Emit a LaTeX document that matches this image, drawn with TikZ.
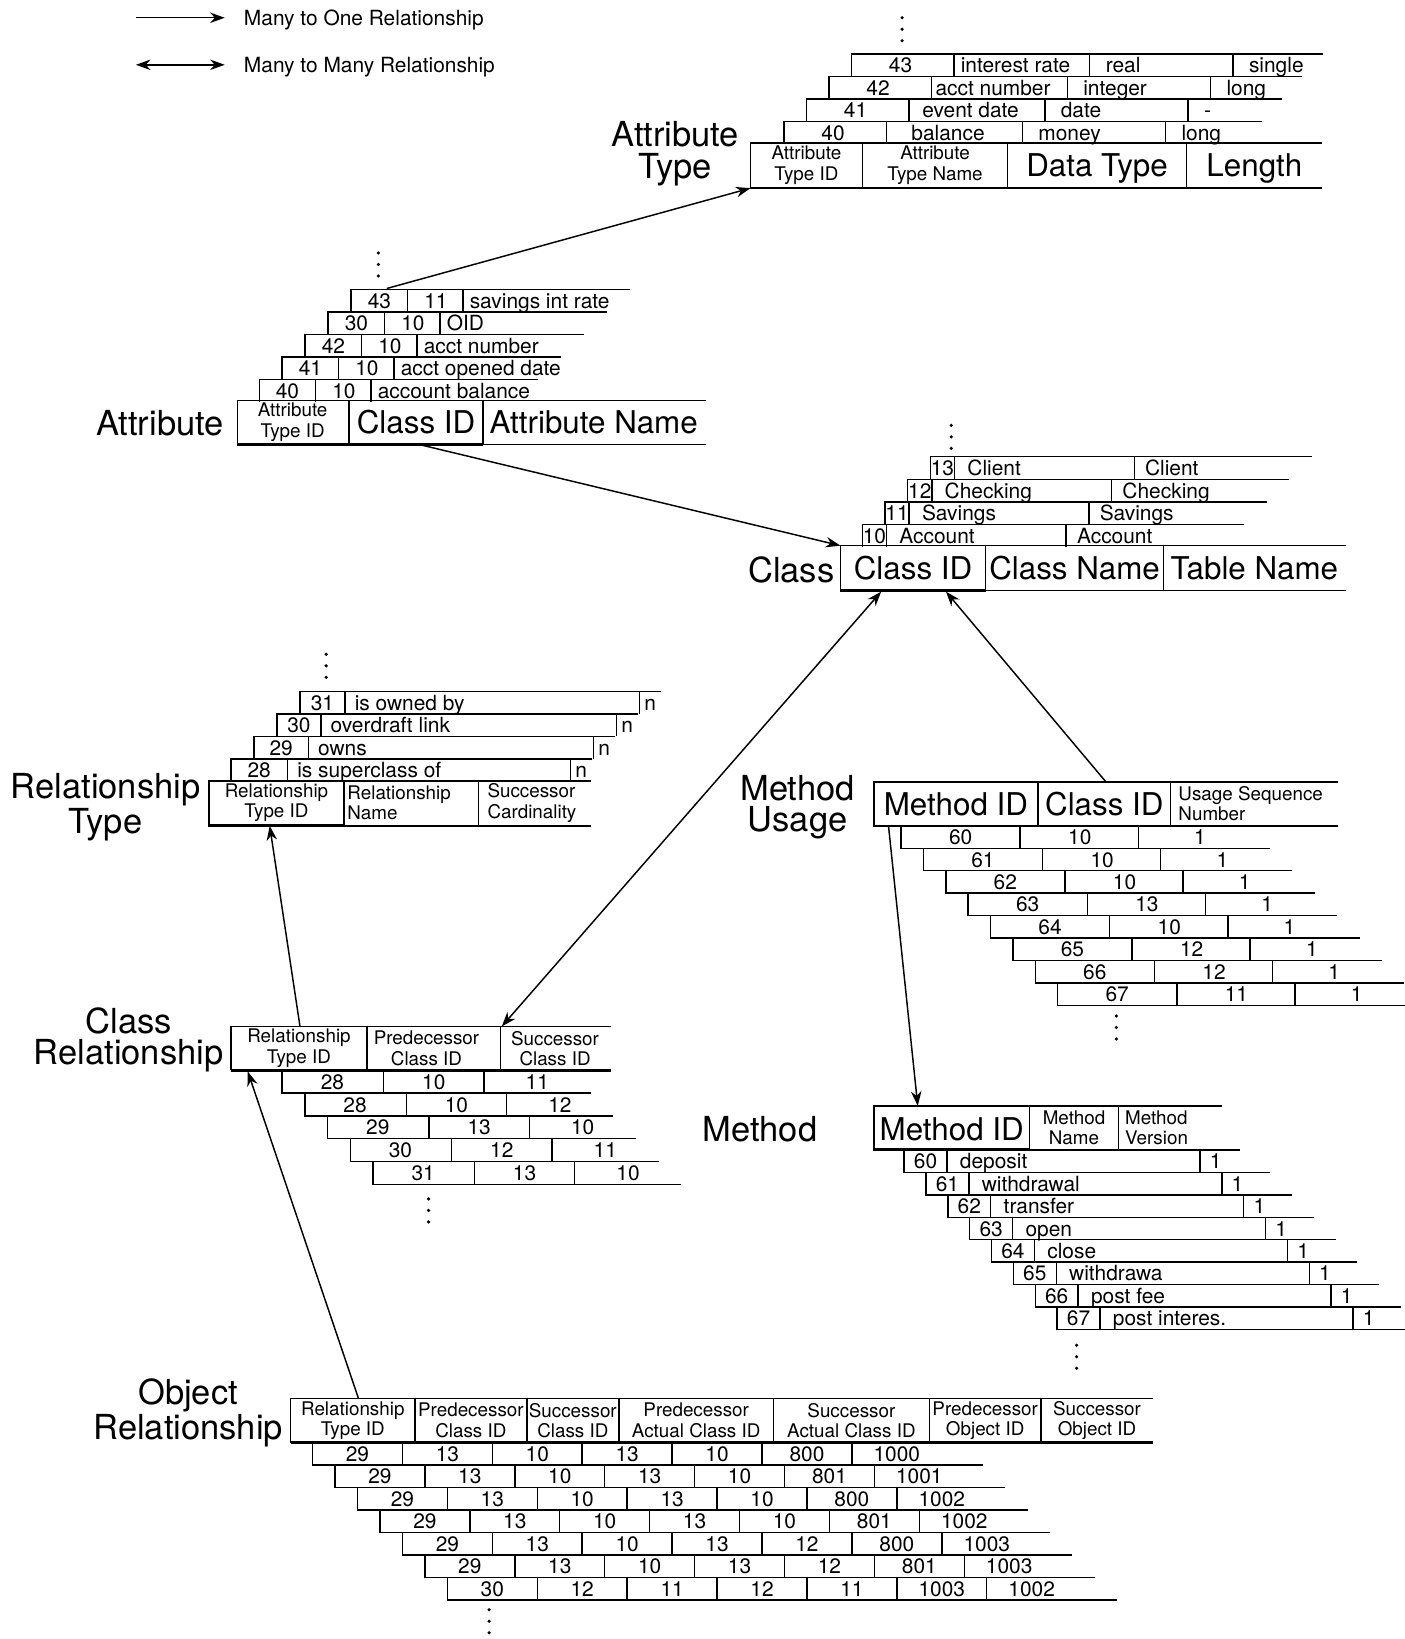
\documentclass[tikz,border=0pt]{standalone}
\usepackage{fontspec}
\setmainfont{TeX Gyre Heros}
\usepackage{tikz}
\usetikzlibrary{arrows.meta}

\begin{document}
\begin{tikzpicture}[x=0.5pt, y=-0.5pt, >={Stealth[length=7pt, width=5pt]},
	tbl/.style={line width=0.7pt},
	keyline/.style={line width=1.5pt},
	rel/.style={line width=0.7pt},
	lbl/.style={font=\fontsize{16.5}{15}\selectfont, align=center, inner sep=0pt},
	big/.style={font=\fontsize{15}{16}\selectfont, inner sep=0pt, text height=10.8pt, text depth=0pt},
	hds/.style={font=\fontsize{9}{9.8}\selectfont, align=center, inner sep=0pt},
	cell/.style={font=\fontsize{10}{11}\selectfont, inner sep=0pt, text height=7.2pt, text depth=0pt}]
	\fill[white] (0,0) rectangle (1344,1568);
	\useasboundingbox (0,0) rectangle (1344,1568);

	\coordinate (one1) at (130,17);
	\coordinate (one2) at (215,17);
	\coordinate (many1) at (130,62);
	\coordinate (many2) at (215,62);
	\draw[rel, ->] (one1) -- (one2);
	\draw[rel, <->] (many1) -- (many2);
	\node[cell, anchor=west] (onetext) at (233,17) {Many to One Relationship};
	\node[cell, anchor=west] (manytext) at (233,62) {Many to Many Relationship};

	\foreach \x/\y in {863/28, 362/253, 910/418, 312/637, 1068/983, 1030/1298, 410/1158, 468/1551}
		\foreach \d in {-11,0,11} \fill (\x,\y+\d) circle [radius=1.7];

	\node[lbl] (atypelabel) at (646,147) {Attribute\\Type};
	\draw[tbl] (1265,137) -- (718,137) -- (718,180) -- (1265,180);
	\foreach \x in {825,964,1135} \draw[tbl] (\x,137) -- (\x,180);
	\node[hds] (atypeh1) at (771.5,158) {Attribute\\Type ID};
	\node[hds] (atypeh2) at (894.5,158) {Attribute\\Type Name};
	\node[big] (atypeh3) at (1049.5,158) {Data Type};
	\node[big] (atypeh4) at (1200,158) {Length};
	\foreach \i/\a/\b/\c/\d in {0/40/balance/money/long, 1/41/event date/date/-, 2/42/acct number/integer/long, 3/43/interest rate/real/single} {
		\pgfmathsetmacro\xl{750+21.5*\i}
		\pgfmathsetmacro\yt{116-21.5*\i}
		\pgfmathsetmacro\xr{1207+19.5*\i}
		\draw[tbl] (\xl,\yt+21.5) -- (\xl,\yt) -- (\xr,\yt);
		\foreach \s in {98,228,365} \draw[tbl] (\xl+\s,\yt) -- (\xl+\s,\yt+21.5);
		\node[cell] (atype-\i-a) at (\xl+47,\yt+10.75) {\a};
		\node[cell] (atype-\i-b) at (\xl+157,\yt+10.75) {\b};
		\node[cell, anchor=west] (atype-\i-c) at (\xl+243,\yt+10.75) {\c};
		\node[cell, anchor=west] (atype-\i-d) at (\xl+380,\yt+10.75) {\d};
	}

	\node[lbl] (attrlabel) at (153,405) {Attribute};
	\draw[tbl] (675,383) -- (227,383) -- (227,425) -- (675,425);
	\draw[keyline] (227,425) -- (462,425);
	\foreach \x in {334,462} \draw[tbl] (\x,383) -- (\x,425);
	\node[hds] (attrh1) at (280,404) {Attribute\\Type ID};
	\node[big] (attrh2) at (398,404) {Class ID};
	\node[big] (attrh3) at (568,404) {Attribute Name};
	\foreach \i/\a/\b/\c in {0/40/10/account balance, 1/41/10/acct opened date, 2/42/10/acct number, 3/30/10/OID, 4/43/11/savings int rate} {
		\pgfmathsetmacro\xl{248+22*\i}
		\pgfmathsetmacro\yt{363-21.5*\i}
		\draw[tbl] (\xl,\yt+21.5) -- (\xl,\yt) -- (\xl+267,\yt);
		\foreach \s in {54,107} \draw[tbl] (\xl+\s,\yt) -- (\xl+\s,\yt+21.5);
		\node[cell] (attr-\i-a) at (\xl+27,\yt+10.75) {\a};
		\node[cell] (attr-\i-b) at (\xl+81,\yt+10.75) {\b};
		\node[cell, anchor=west] (attr-\i-c) at (\xl+113,\yt+10.75) {\c};
	}

	\node[lbl] (clslabel) at (757,545) {Class};
	\draw[tbl] (1288,522) -- (804,522) -- (804,565) -- (1288,565);
	\draw[keyline] (804,565) -- (943,565);
	\foreach \x in {943,1113} \draw[tbl] (\x,522) -- (\x,565);
	\node[big] (clsh1) at (873.5,544) {Class ID};
	\node[big] (clsh2) at (1028,544) {Class Name};
	\node[big] (clsh3) at (1200,544) {Table Name};
	\foreach \i/\a/\b in {0/10/Account, 1/11/Savings, 2/12/Checking, 3/13/Client} {
		\pgfmathsetmacro\xl{825+21.7*\i}
		\pgfmathsetmacro\yt{502-21.7*\i}
		\draw[tbl] (\xl,\yt+21.7) -- (\xl,\yt) -- (\xl+365,\yt);
		\foreach \s in {23,195} \draw[tbl] (\xl+\s,\yt) -- (\xl+\s,\yt+21.7);
		\node[cell] (cls-\i-a) at (\xl+11.5,\yt+10.85) {\a};
		\node[cell, anchor=west] (cls-\i-b) at (\xl+35,\yt+10.85) {\b};
		\node[cell, anchor=west] (cls-\i-c) at (\xl+205,\yt+10.85) {\b};
	}

	\node[lbl] (rtlabel) at (101,772) {Relationship\\Type};
	\draw[tbl] (565,747) -- (200,747) -- (200,790) -- (565,790);
	\draw[keyline] (200,790) -- (329,790);
	\foreach \x in {329,458} \draw[tbl] (\x,747) -- (\x,790);
	\node[hds] (rth1) at (264.5,768) {Relationship\\Type ID};
	\node[hds, anchor=west, align=left] (rth2) at (332,768) {Relationship\\Name};
	\node[hds, anchor=west, align=left] (rth3) at (466,768) {Successor\\Cardinality};
	\foreach \i/\w/\a/\b in {0/54/28/is superclass of, 1/52/29/owns, 2/42/30/overdraft link, 3/43/31/is owned by} {
		\pgfmathsetmacro\xl{221+22*\i}
		\pgfmathsetmacro\yt{726-21.5*\i}
		\draw[tbl] (\xl,\yt+21.5) -- (\xl,\yt) -- (\xl+345,\yt);
		\foreach \s in {\w,325} \draw[tbl] (\xl+\s,\yt) -- (\xl+\s,\yt+21.5);
		\node[cell] (rt-\i-a) at (\xl+\w/2,\yt+10.75) {\a};
		\node[cell, anchor=west] (rt-\i-b) at (\xl+\w+9,\yt+10.75) {\b};
		\node[cell] (rt-\i-c) at (\xl+335,\yt+10.75) {n};
	}

	\node[lbl] (mulabel) at (763,772) {Method\\Usage};
	\draw[tbl] (1280,748) -- (836,748) -- (836,790) -- (1280,790);
	\foreach \x in {993,1120} \draw[tbl] (\x,748) -- (\x,790);
	\node[big] (muh1) at (914.5,769) {Method ID};
	\node[big] (muh2) at (1056.5,769) {Class ID};
	\node[hds, anchor=west, align=left] (muh3) at (1127,769) {Usage Sequence\\Number};
	\foreach \i/\a/\b in {0/60/10, 1/61/10, 2/62/10, 3/63/13, 4/64/10, 5/65/12, 6/66/12, 7/67/11} {
		\pgfmathsetmacro\xl{862+21.4*\i}
		\pgfmathsetmacro\yt{790+21.5*\i}
		\pgfmathsetmacro\xr{min(\xl+353,1344)}
		\draw[tbl] (\xl,\yt) -- (\xl,\yt+21.5) -- (\xr,\yt+21.5);
		\foreach \s in {114,227} \draw[tbl] (\xl+\s,\yt) -- (\xl+\s,\yt+21.5);
		\node[cell] (mu-\i-a) at (\xl+57,\yt+10.75) {\a};
		\node[cell] (mu-\i-b) at (\xl+171,\yt+10.75) {\b};
		\node[cell] (mu-\i-c) at (\xl+286,\yt+10.75) {1};
	}

	\node[lbl] (mlabel) at (727,1080) {Method};
	\draw[tbl] (1169,1058) -- (836,1058) -- (836,1100) -- (1186,1100);
	\draw[keyline] (836,1100) -- (985,1100);
	\foreach \x in {985,1070} \draw[tbl] (\x,1058) -- (\x,1100);
	\node[big] (mh1) at (910.5,1080) {Method ID};
	\node[hds] (mh2) at (1027.5,1079) {Method\\Name};
	\node[hds, anchor=west, align=left] (mh3) at (1076,1079) {Method\\Version};
	\foreach \i/\a/\b in {0/60/deposit, 1/61/withdrawal, 2/62/transfer, 3/63/open, 4/64/close, 5/65/withdrawa, 6/66/post fee, 7/67/post interes.} {
		\pgfmathsetmacro\xl{865+20.9*\i}
		\pgfmathsetmacro\yt{1100+21.5*\i}
		\pgfmathsetmacro\xr{min(\xl+350,1344)}
		\draw[tbl] (\xl,\yt) -- (\xl,\yt+21.5) -- (\xr,\yt+21.5);
		\foreach \s in {41,283} \draw[tbl] (\xl+\s,\yt) -- (\xl+\s,\yt+21.5);
		\node[cell] (m-\i-a) at (\xl+20.5,\yt+10.75) {\a};
		\node[cell, anchor=west] (m-\i-b) at (\xl+53,\yt+10.75) {\b};
		\node[cell] (m-\i-c) at (\xl+298,\yt+10.75) {1};
	}

	\node[lbl] (crlabel) at (123,995) {Class\\Relationship};
	\draw[tbl] (585,982) -- (221,982) -- (221,1024);
	\draw[keyline] (221,1024) -- (585,1024);
	\foreach \x in {351,479} \draw[tbl] (\x,982) -- (\x,1024);
	\node[hds] (crh1) at (286,1003) {Relationship\\Type ID};
	\node[hds] (crh2) at (408,1003) {Predecessor\\Class ID};
	\node[hds] (crh3) at (531,1003) {Successor\\Class ID};
	\foreach \i/\a/\b/\c in {0/28/10/11, 1/28/10/12, 2/29/13/10, 3/30/12/11, 4/31/13/10} {
		\pgfmathsetmacro\xl{270+21.7*\i}
		\pgfmathsetmacro\yt{1024+21.8*\i}
		\draw[tbl] (\xl,\yt) -- (\xl,\yt+21.8) -- (\xl+295,\yt+21.8);
		\foreach \s in {97,193} \draw[tbl] (\xl+\s,\yt) -- (\xl+\s,\yt+21.8);
		\node[cell] (cr-\i-a) at (\xl+48,\yt+10.9) {\a};
		\node[cell] (cr-\i-b) at (\xl+145,\yt+10.9) {\b};
		\node[cell] (cr-\i-c) at (\xl+244,\yt+10.9) {\c};
	}

	\node[lbl] (orlabel) at (180,1352) {Object\\Relationship};
	\draw[tbl] (1103,1338) -- (278,1338) -- (278,1380);
	\draw[keyline] (278,1380) -- (1103,1380);
	\foreach \x in {397,504,592,740,889,996} \draw[tbl] (\x,1338) -- (\x,1380);
	\node[hds] (orh1) at (337.5,1359) {Relationship\\Type ID};
	\node[hds] (orh2) at (450.5,1359) {Predecessor\\Class ID};
	\node[hds] (orh3) at (548,1359) {Successor\\Class ID};
	\node[hds] (orh4) at (666,1359) {Predecessor\\Actual Class ID};
	\node[hds] (orh5) at (814.5,1359) {Successor\\Actual Class ID};
	\node[hds] (orh6) at (942.5,1359) {Predecessor\\Object ID};
	\node[hds] (orh7) at (1049.5,1359) {Successor\\Object ID};
	\foreach \i/\a/\b/\c/\d/\e/\f/\g in {0/29/13/10/13/10/800/1000, 1/29/13/10/13/10/801/1001, 2/29/13/10/13/10/800/1002, 3/29/13/10/13/10/801/1002, 4/29/13/10/13/12/800/1003, 5/29/13/10/13/12/801/1003, 6/30/12/11/12/11/1003/1002} {
		\pgfmathsetmacro\xl{299+21.5*\i}
		\pgfmathsetmacro\yt{1380+21.5*\i}
		\draw[tbl] (\xl,\yt) -- (\xl,\yt+21.5) -- (\xl+641,\yt+21.5);
		\foreach \k in {1,...,6} \draw[tbl] (\xl+86*\k,\yt) -- (\xl+86*\k,\yt+21.5);
		\foreach \k/\v in {0/\a, 1/\b, 2/\c, 3/\d, 4/\e, 5/\f, 6/\g}
			\node[cell] (or-\i-\k) at (\xl+43+86*\k,\yt+10.75) {\v};
	}

	\coordinate (attrtop) at (370,276);
	\coordinate (atypecorner) at (718,180);
	\coordinate (attrbottom) at (400,425);
	\coordinate (clscorner) at (804,522);
	\coordinate (clsbottom1) at (843,566);
	\coordinate (clsbottom2) at (905,566);
	\coordinate (mutop) at (1058,748);
	\coordinate (mubottom) at (850,790);
	\coordinate (mtop) at (878,1058);
	\coordinate (crtop1) at (287,982);
	\coordinate (crtop2) at (480,982);
	\coordinate (crbottom) at (237,1025);
	\coordinate (rtbottom) at (258,790);
	\coordinate (ortop) at (343,1338);
	\draw[rel, ->] (attrtop) -- (atypecorner);
	\draw[rel, ->] (attrbottom) -- (clscorner);
	\draw[rel, ->] (mutop) -- (clsbottom2);
	\draw[rel, <->] (clsbottom1) -- (crtop2);
	\draw[rel, ->] (crtop1) -- (rtbottom);
	\draw[rel, ->] (ortop) -- (crbottom);
	\draw[rel, ->] (mubottom) -- (mtop);
\end{tikzpicture}
\end{document}
